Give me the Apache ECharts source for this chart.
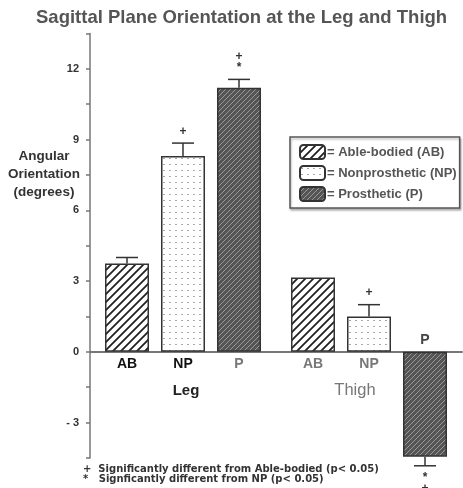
<!DOCTYPE html>
<html>
<head>
<meta charset="utf-8">
<script src="https://cdn.jsdelivr.net/npm/echarts@6/dist/echarts.min.js"></script>
<style>
html, body { margin: 0; padding: 0; background: #fff; }
#chart { width: 463px; height: 488px; }
</style>
</head>
<body>
<div id="chart"></div>
<script>
const groups = ['Leg', 'Thigh']
const seriesNames = ['Able-bodied (AB)', 'Nonprosthetic (NP)', 'Prosthetic (P)']
const barLabels = ['AB', 'NP', 'P']
const abMeans = [3.75, 3.15]
const npMeans = [8.3, 1.5]
const pMeans = [11.2, -4.45]
const abErr = [0.25, 0.0]
const npErr = [0.55, 0.5]
const pErr = [0.35, 0.38]
const abMarks = ['', '']
const npMarks = ['+', '+']
const pMarks = ['+\n*', '*\n+']

const FONT = '"Liberation Sans", Arial, sans-serif'
const BAR_W = 44
const BAR_GAP = 12

// canvas tiles for the hatch fills
function hatch(size, bg, fg, lw) {
    const c = document.createElement('canvas')
    c.width = size
    c.height = size
    const ctx = c.getContext('2d')
    ctx.fillStyle = bg
    ctx.fillRect(0, 0, size, size)
    ctx.strokeStyle = fg
    ctx.lineWidth = lw
    ctx.beginPath()
    ctx.moveTo(-1, size + 1); ctx.lineTo(size + 1, -1)
    ctx.moveTo(-1, 1); ctx.lineTo(1, -1)
    ctx.moveTo(size - 1, size + 1); ctx.lineTo(size + 1, size - 1)
    ctx.stroke()
    return { image: c, repeat: 'repeat' }
}

function dots() {
    const c = document.createElement('canvas')
    c.width = 6
    c.height = 6
    const ctx = c.getContext('2d')
    ctx.fillStyle = '#fff'
    ctx.fillRect(0, 0, 6, 6)
    ctx.fillStyle = '#a8a8a8'
    ctx.fillRect(1, 2, 2, 1)
    return { image: c, repeat: 'repeat' }
}

const fills = [hatch(8, '#fff', '#222', 1.8), dots(), hatch(5, '#555', '#999', 1)]
const meansList = [abMeans, npMeans, pMeans]
const errList = [abErr, npErr, pErr]
const marksList = [abMarks, npMarks, pMarks]

const labelColors = [['#111', '#777'], ['#111', '#777'], ['#777', '#444']]

const barSeries = seriesNames.map((name, s) => ({
    name: name,
    type: 'bar',
    barWidth: BAR_W,
    barGap: (BAR_GAP / BAR_W * 100) + '%',
    itemStyle: { color: fills[s], borderColor: '#333', borderWidth: 1.5 },
    data: meansList[s].map((v, g) => ({
        value: v,
        label: {
            show: true,
            position: v < 0 ? 'top' : 'bottom',
            distance: 5,
            formatter: barLabels[s],
            color: labelColors[s][g],
            fontFamily: FONT,
            fontWeight: 'bold',
            fontSize: 14
        }
    }))
}))

const errData = []
seriesNames.forEach((n, s) => {
    groups.forEach((g, gi) => {
        errData.push([gi, s, meansList[s][gi], errList[s][gi], marksList[s][gi]])
    })
})

const errSeries = {
    type: 'custom',
    silent: true,
    z: 10,
    data: errData,
    renderItem: function (params, api) {
        const mean = api.value(2)
        const err = api.value(3)
        const mark = errData[params.dataIndex][4]
        const dir = mean < 0 ? -1 : 1
        const off = (api.value(1) - 1) * (BAR_W + BAR_GAP)
        const p0 = api.coord([api.value(0), mean])
        const p1 = api.coord([api.value(0), mean + dir * err])
        const x = p0[0] + off
        const children = []
        if (err > 0) {
            children.push({
                type: 'line',
                shape: { x1: x, y1: p0[1], x2: x, y2: p1[1] },
                style: { stroke: '#333', lineWidth: 1.5 }
            })
            children.push({
                type: 'line',
                shape: { x1: x - 11, y1: p1[1], x2: x + 11, y2: p1[1] },
                style: { stroke: '#333', lineWidth: 1.5 }
            })
        }
        if (mark) {
            children.push({
                type: 'text',
                style: {
                    x: x,
                    y: p1[1] - dir * 6,
                    text: mark,
                    align: 'center',
                    verticalAlign: dir > 0 ? 'bottom' : 'top',
                    fontFamily: FONT,
                    fontWeight: 'bold',
                    fontSize: 12,
                    lineHeight: 11,
                    fill: '#333'
                }
            })
        }
        return { type: 'group', children: children }
    }
}

// "Leg" / "Thigh" under the zero line
const groupSeries = {
    type: 'custom',
    silent: true,
    data: groups.map((g, i) => [i, 0]),
    renderItem: function (params, api) {
        const p = api.coord([api.value(0), 0])
        const isLeg = groups[params.dataIndex] === 'Leg'
        return {
            type: 'text',
            style: {
                x: p[0] + (isLeg ? 3 : -14),
                y: p[1] + 39,
                text: groups[params.dataIndex],
                align: 'center',
                verticalAlign: 'middle',
                fontFamily: FONT,
                fontSize: isLeg ? 15 : 16.5,
                fontWeight: isLeg ? 'bold' : 'normal',
                fill: isLeg ? '#222' : '#777'
            }
        }
    }
}

const chart = echarts.init(document.getElementById('chart'))
chart.setOption({
    animation: false,
    title: {
        text: 'Sagittal Plane Orientation at the Leg and Thigh',
        left: 31,
        top: 3,
        textStyle: { fontFamily: FONT, fontSize: 18.5, fontWeight: 'bold', color: '#555' }
    },
    legend: {
        orient: 'vertical',
        left: 290,
        top: 137,
        padding: [7, 3, 6, 9],
        itemWidth: 25,
        itemHeight: 14,
        itemGap: 5,
        borderColor: '#555',
        borderWidth: 1.5,
        shadowColor: 'rgba(0,0,0,0.25)',
        shadowBlur: 2,
        shadowOffsetX: 1,
        shadowOffsetY: 2,
        backgroundColor: '#fff',
        data: seriesNames,
        formatter: '= {name}',
        textStyle: { fontFamily: FONT, fontSize: 13, fontWeight: 'bold', color: '#555', padding: [0, 0, 0, -3] }
    },
    grid: { left: 90, right: 1, top: 33.4, bottom: 30, outerBoundsMode: 'none' },
    xAxis: {
        type: 'category',
        data: groups,
        axisLine: { onZero: true, lineStyle: { color: '#777', width: 2 } },
        axisTick: { show: false },
        axisLabel: { show: false }
    },
    yAxis: {
        type: 'value',
        min: -4.5,
        max: 13.5,
        interval: 1.5,
        splitLine: { show: false },
        axisLine: { show: true, onZero: false, lineStyle: { color: '#777', width: 1.5 } },
        axisTick: { show: true, length: 4, lineStyle: { color: '#777', width: 1.5 } },
        axisLabel: {
            margin: 11,
            fontFamily: FONT,
            fontSize: 11,
            fontWeight: 'bold',
            color: '#333',
            formatter: v => (Math.abs(v % 3) < 1e-9 && v > -4 && v < 13) ? (v < 0 ? '- ' + (-v) : String(v)) : ''
        }
    },
    graphic: [
        {
            type: 'text',
            x: 44,
            y: 147,
            style: {
                text: 'Angular\nOrientation\n(degrees)',
                align: 'center',
                fontFamily: FONT,
                fontSize: 13.5,
                fontWeight: 'bold',
                lineHeight: 18,
                fill: '#333'
            }
        },
        {
            type: 'text',
            x: 83,
            y: 464,
            style: {
                text: '+  Significantly different from Able-bodied (p< 0.05)\n*   Signficantly different from NP (p< 0.05)',
                fontFamily: '"DejaVu Sans", sans-serif',
                fontSize: 10,
                fontWeight: 'bold',
                lineHeight: 10,
                fill: '#333'
            }
        }
    ],
    series: barSeries.concat([errSeries, groupSeries])
})
</script>
</body>
</html>
